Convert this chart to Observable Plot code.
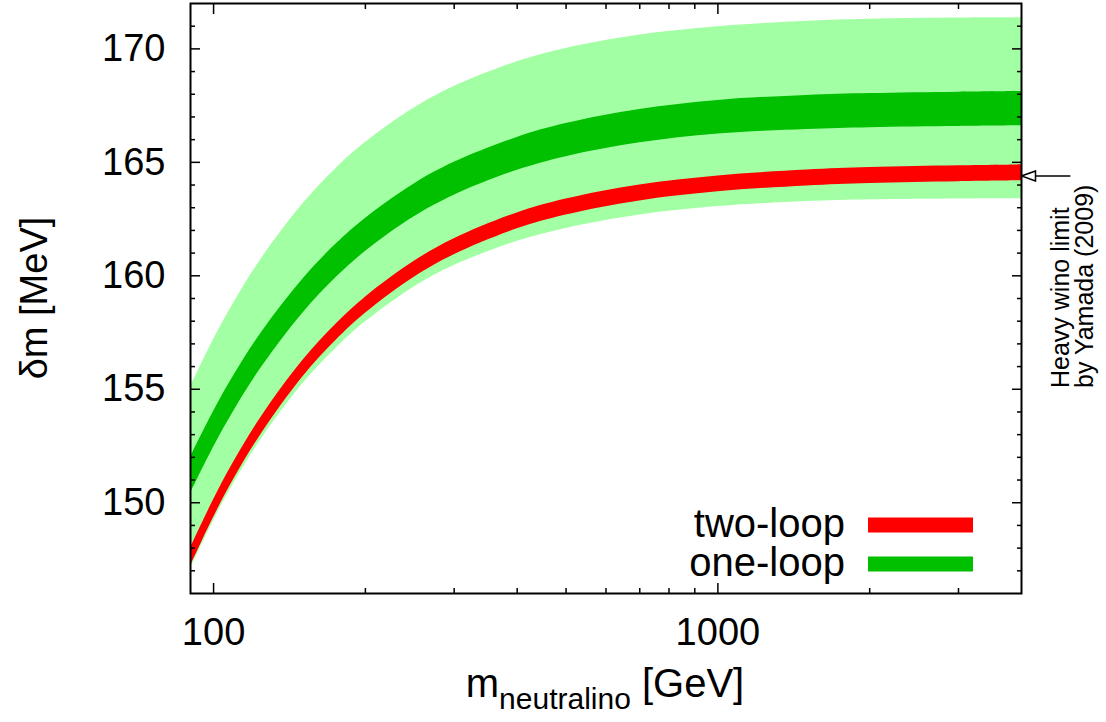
<!DOCTYPE html>
<html><head><meta charset="utf-8">
<script src="https://cdn.jsdelivr.net/npm/d3@7"></script>
<script src="https://cdn.jsdelivr.net/npm/@observablehq/plot@0.6"></script>
<style>body{margin:0;background:#fff;} svg{display:block}</style>
</head><body><div id="chart"></div>
<script>
// neutralino mass [GeV]
const mass = [90,100,110,125,150,175,200,250,300,400,500,700,1000,1500,2000,3000,4000];
// one-loop outer (light) band
const oneLoopOuterHi = [155.1,157.19,158.86,160.82,163.14,164.73,165.87,167.39,168.34,169.43,170.02,170.61,170.98,171.22,171.31,171.36,171.37];
const oneLoopOuterLo = [147.1,149.21,150.91,152.88,155.22,156.81,157.97,159.51,160.45,161.52,162.09,162.68,163.05,163.27,163.35,163.39,163.4];
// one-loop (dark green) band
const oneLoopHi = [152.0,154.02,155.65,157.56,159.83,161.4,162.53,164.05,165.0,166.1,166.71,167.33,167.73,167.95,168.03,168.09,168.12];
const oneLoopLo = [150.4,152.44,154.09,156.02,158.33,159.92,161.07,162.6,163.55,164.65,165.25,165.86,166.25,166.45,166.53,166.58,166.61];
// two-loop (red) band
const twoLoopHi = [148.0,150.13,151.85,153.86,156.25,157.88,159.06,160.64,161.63,162.77,163.38,164.0,164.4,164.66,164.77,164.85,164.89];
const twoLoopLo = [147.2,149.35,151.09,153.11,155.52,157.16,158.35,159.94,160.93,162.07,162.68,163.3,163.7,163.96,164.07,164.15,164.19];

const xMajor = [100, 1000];
const xMinor = [200,300,400,500,600,700,800,900,2000,3000];
const yMajor = [150,155,160,165,170];
const yMinor = [147,148,149,151,152,153,154,156,157,158,159,161,162,163,164,166,167,168,169,171];

const legendLabels = ["two-loop", "one-loop"];
const yamadaLimit = 164.4;
const arrowFrom = 5000, arrowTo = 4000;
const annotationLines = ["Heavy wino limit", "by Yamada (2009)"];

const LIGHT = "#a3ffa3", DARK = "#00c000", RED = "#ff0000";

const rows = mass.map((m, i) => ({
  m, lu: oneLoopOuterHi[i], ll: oneLoopOuterLo[i],
  du: oneLoopHi[i], dl: oneLoopLo[i],
  ru: twoLoopHi[i], rl: twoLoopLo[i]
}));
const arrowData = [{from: arrowFrom, to: arrowTo, y: yamadaLimit}];
const blank = () => "";
const CURVE = "catmull-rom";

const plot = Plot.plot({
  width: 1106, height: 722,
  marginLeft: 190, marginRight: 85, marginTop: 3, marginBottom: 129,
  style: {fontFamily: "'Liberation Sans', Arial, sans-serif", fontSize: "38px", color: "black", background: "white"},
  x: {type: "log", domain: [90, 4000]},
  y: {domain: [146, 172]},
  marks: [
    Plot.areaY(rows, {x: "m", y1: "ll", y2: "lu", fill: LIGHT, curve: CURVE}),
    Plot.areaY(rows, {x: "m", y1: "dl", y2: "du", fill: DARK, curve: CURVE}),
    Plot.areaY(rows, {x: "m", y1: "rl", y2: "ru", fill: RED, curve: CURVE}),
    Plot.axisY({anchor: "left", ticks: yMajor, tickSize: -10, tickPadding: 35, fontSize: 38, label: null, strokeWidth: 1.5}),
    Plot.axisY({anchor: "left", ticks: yMinor, tickSize: -5, tickFormat: blank, label: null, strokeWidth: 1.5}),
    Plot.axisY({anchor: "right", ticks: yMajor, tickSize: -10, tickFormat: blank, label: null, strokeWidth: 1.5}),
    Plot.axisY({anchor: "right", ticks: yMinor, tickSize: -5, tickFormat: blank, label: null, strokeWidth: 1.5}),
    Plot.axisX({anchor: "bottom", ticks: xMajor, tickSize: -10, tickPadding: 35, tickFormat: d => String(d), fontSize: 38, label: null, strokeWidth: 1.5}),
    Plot.axisX({anchor: "bottom", ticks: xMinor, tickSize: -5, tickFormat: blank, label: null, strokeWidth: 1.5}),
    Plot.axisX({anchor: "top", ticks: xMajor, tickSize: -10, tickFormat: blank, label: null, strokeWidth: 1.5}),
    Plot.axisX({anchor: "top", ticks: xMinor, tickSize: -5, tickFormat: blank, label: null, strokeWidth: 1.5}),
    Plot.frame({stroke: "black", strokeWidth: 2}),
    Plot.link(arrowData, {x1: "from", x2: "to", y1: "y", y2: "y", stroke: "black", strokeWidth: 1.5, clip: false})
  ]
});
document.getElementById("chart").appendChild(plot);

const svg = d3.select(plot);
const FONT = "'Liberation Sans', Arial, sans-serif";

// open triangle arrowhead
const defs = svg.append("defs");
defs.append("marker").attr("id", "opentri")
  .attr("viewBox", "0 0 16 12").attr("refX", 15).attr("refY", 6)
  .attr("markerWidth", 16).attr("markerHeight", 12)
  .attr("markerUnits", "userSpaceOnUse").attr("orient", "auto")
  .append("path").attr("d", "M1,1L15,6L1,11Z")
  .attr("fill", "white").attr("stroke", "black").attr("stroke-width", 1.5);
svg.selectAll('g[aria-label="link"] path').attr("marker-end", "url(#opentri)");

// y axis label
svg.append("text")
  .attr("transform", "translate(47,298) rotate(-90)")
  .attr("text-anchor", "middle")
  .attr("font-family", FONT).attr("font-size", 38).attr("fill", "black")
  .text("δm [MeV]");

// x axis label with subscript
const xl = svg.append("text")
  .attr("x", 605).attr("y", 697)
  .attr("text-anchor", "middle")
  .attr("font-family", FONT).attr("font-size", 40).attr("fill", "black");
xl.append("tspan").text("m");
xl.append("tspan").attr("font-size", 30).attr("dy", 12).text("neutralino");
xl.append("tspan").attr("dy", -12).text(" [GeV]");

// annotation
const annoX = [1069, 1093];
annotationLines.forEach((t, i) => {
  svg.append("text")
    .attr("transform", `translate(${annoX[i]},388) rotate(-90)`)
    .attr("text-anchor", "start")
    .attr("font-family", FONT).attr("font-size", 25).attr("fill", "black")
    .text(t);
});

// legend
const legendColors = [RED, DARK];
const legendY = [525, 564];
legendLabels.forEach((lab, i) => {
  svg.append("text")
    .attr("x", 845).attr("y", legendY[i] + 12)
    .attr("text-anchor", "end")
    .attr("font-family", FONT).attr("font-size", 40).attr("fill", "black")
    .text(lab);
  svg.append("line")
    .attr("x1", 868).attr("x2", 973)
    .attr("y1", legendY[i]).attr("y2", legendY[i])
    .attr("stroke", legendColors[i]).attr("stroke-width", 15);
});
</script>
</body></html>
